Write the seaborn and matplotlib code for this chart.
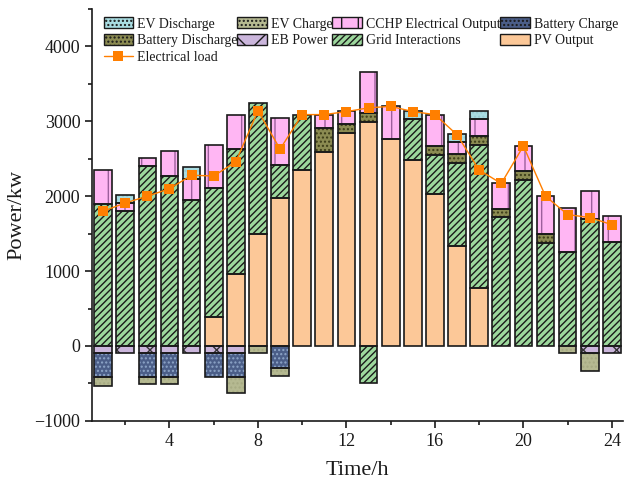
import numpy as np
import pandas as pd
import matplotlib
matplotlib.use("Agg")
import matplotlib.pyplot as plt
import seaborn as sns
from matplotlib.patches import Patch
from matplotlib.lines import Line2D

hours = list(range(1, 25))
pv_output = [0, 0, 0, 0, 0, 390, 955, 1490, 1970, 2355, 2590, 2850, 2990, 2770, 2490, 2035, 1340, 770, 0, 0, 0, 0, 0, 0]
grid_interactions = [1890, 1800, 2400, 2265, 1950, 1720, 1680, 1760, 450, 735, 0, 0, -490, 0, 535, 520, 1110, 1920, 1720, 2210, 1370, 1250, 1690, 1390]
battery_discharge = [0, 0, 0, 0, 0, 0, 0, 0, 0, 0, 320, 120, 125, 0, 0, 115, 120, 120, 115, 120, 120, 0, 0, 0]
cchp_output = [460, 115, 115, 340, 275, 570, 450, 0, 620, 0, 178, 165, 550, 430, 0, 420, 155, 227, 335, 340, 515, 595, 375, 340]
ev_discharge = [0, 100, 0, 0, 165, 0, 0, 0, 0, 0, 0, 0, 0, 0, 110, 0, 100, 97, 0, 0, 0, 0, 0, 0]
eb_power = [-100, -100, -100, -100, -100, -100, -100, 0, 0, 0, 0, 0, 0, 0, 0, 0, 0, 0, 0, 0, 0, 0, -100, -100]
battery_charge = [-310, 0, -310, -310, 0, -310, -310, 0, -300, 0, 0, 0, 0, 0, 0, 0, 0, 0, 0, 0, 0, 0, 0, 0]
ev_charge = [-125, 0, -100, -100, 0, 0, -220, -100, -100, 0, 0, 0, 0, 0, 0, 0, 0, 0, 0, 0, 0, -100, -240, 0]
electrical_load = [1800, 1910, 2000, 2100, 2280, 2270, 2460, 3140, 2630, 3090, 3090, 3130, 3180, 3200, 3130, 3090, 2820, 2350, 2170, 2670, 2000, 1755, 1715, 1620]

sns.set_theme(style="ticks")
plt.rcParams['font.family'] = ['Liberation Serif', 'DejaVu Serif']
plt.rcParams['hatch.linewidth'] = 1.0

styles = {
    "EV Discharge": dict(fc="#a9dde2", hc="#98ccd2", hatch="...."),
    "EV Charge": dict(fc="#b5b991", hc="#a6aa82", hatch="...."),
    "CCHP Electrical Output": dict(fc="#ffb6f3", hc="#9c5f9c", hatch="|"),
    "Battery Charge": dict(fc="#4b5e88", hc="#8ea6c8", hatch="...."),
    "Battery Discharge": dict(fc="#8b8b52", hc="#3c3c18", hatch="...."),
    "EB Power": dict(fc="#cbb6dc", hc="#333333", hatch="x"),
    "Grid Interactions": dict(fc="#9dd89d", hc="#1a1a1a", hatch="/////"),
    "PV Output": dict(fc="#fcc898", hc=None, hatch=None),
}

fig = plt.figure(figsize=(6.35, 4.86), dpi=100)
ax = fig.add_axes([0.145, 0.134, 0.836, 0.8475])

x = np.array(hours, dtype=float)
width = 0.8

def draw(vals, bottom, name):
    st = styles[name]
    vals = np.array(vals, dtype=float)
    mask = vals != 0
    if not mask.any():
        return
    if st["hatch"]:
        ax.bar(x[mask], vals[mask], width, bottom=bottom[mask], color=st["fc"],
               hatch=st["hatch"], edgecolor=st["hc"], linewidth=0, zorder=2)
    else:
        ax.bar(x[mask], vals[mask], width, bottom=bottom[mask], color=st["fc"],
               linewidth=0, zorder=2)
    ax.bar(x[mask], vals[mask], width, bottom=bottom[mask], fill=False,
           edgecolor="#1a1a1a", linewidth=1.2, zorder=3)

pos_b = np.zeros(24)
neg_b = np.zeros(24)
grid_arr = np.array(grid_interactions, dtype=float)
grid_pos = np.where(grid_arr > 0, grid_arr, 0)
grid_neg = np.where(grid_arr < 0, grid_arr, 0)

for name, vals in [("PV Output", pv_output), ("Grid Interactions", grid_pos),
                   ("Battery Discharge", battery_discharge),
                   ("CCHP Electrical Output", cchp_output), ("EV Discharge", ev_discharge)]:
    draw(vals, pos_b, name)
    pos_b = pos_b + np.array(vals, dtype=float)

for name, vals in [("Grid Interactions", grid_neg), ("EB Power", eb_power),
                   ("Battery Charge", battery_charge), ("EV Charge", ev_charge)]:
    draw(vals, neg_b, name)
    neg_b = neg_b + np.array(vals, dtype=float)

df_load = pd.DataFrame({"Time": hours, "Load": electrical_load})
sns.lineplot(data=df_load, x="Time", y="Load", ax=ax, color="#ff7f00", linewidth=1.0,
             marker="s", markersize=7.3, markeredgewidth=0, zorder=5)

ax.set_xlim(0.5, 24.5)
ax.set_ylim(-1000, 4500)
ax.set_xticks([4, 8, 12, 16, 20, 24])
ax.set_xticks([2, 6, 10, 14, 18, 22], minor=True)
ax.set_yticks([-1000, 0, 1000, 2000, 3000, 4000])
ax.set_yticks([-500, 500, 1500, 2500, 3500, 4500], minor=True)
ax.set_yticklabels(["\u22121000", "0", "1000", "2000", "3000", "4000"])
ax.tick_params(axis="both", which="major", direction="out", length=5, width=1.2,
               labelsize=13, color="#1a1a1a", labelcolor="#1a1a1a")
ax.tick_params(axis="both", which="minor", direction="out", length=3, width=1.2, color="#1a1a1a")
for s in ["top", "right"]:
    ax.spines[s].set_visible(False)
for s in ["left", "bottom"]:
    ax.spines[s].set_linewidth(1.2)
    ax.spines[s].set_color("#1a1a1a")
ax.set_xlabel("Time/h", fontsize=16, color="#1a1a1a", labelpad=8)
ax.set_ylabel("Power/kw", fontsize=16, color="#1a1a1a", labelpad=6)

def ph(name):
    st = styles[name]
    return Patch(facecolor=st["fc"], edgecolor="#1a1a1a", hatch=st["hatch"], linewidth=1.0, label=name)

load_h = Line2D([], [], color="#ff7f00", linewidth=1.0, marker="s", markersize=7.3,
                markeredgewidth=0, label="Electrical load")
order = ["EV Discharge", "Battery Discharge", None, "EV Charge", "EB Power",
         "CCHP Electrical Output", "Grid Interactions", "Battery Charge", "PV Output"]
handles = [load_h if n is None else ph(n) for n in order]
leg = ax.legend(handles=handles, ncol=4, loc="upper left", bbox_to_anchor=(0.006, 1.0),
                frameon=False, fontsize=10, columnspacing=0.0, handletextpad=0.3,
                handlelength=2.1, handleheight=0.85, labelspacing=0.25, borderaxespad=0.2)
for t in leg.get_texts():
    t.set_color("#1a1a1a")

fig.savefig("out.png", dpi=100)
